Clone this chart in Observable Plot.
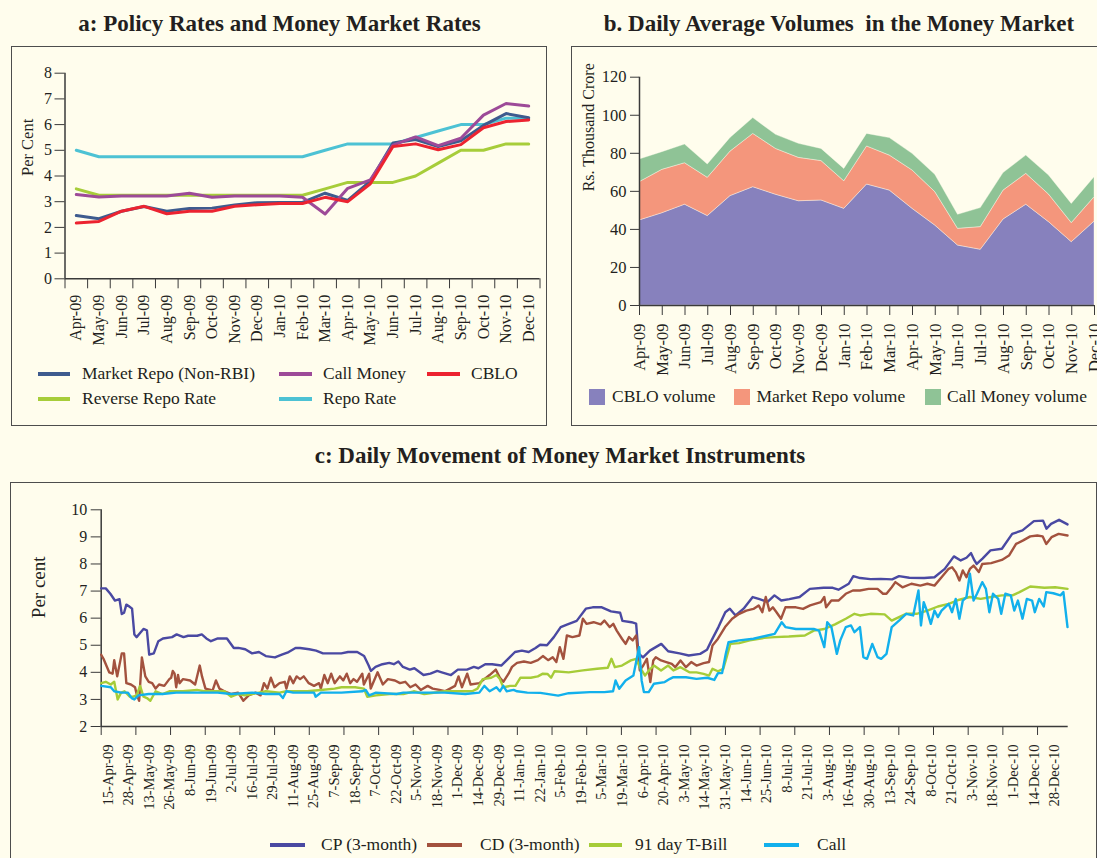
<!DOCTYPE html>
<html><head><meta charset="utf-8">
<script src="https://cdn.jsdelivr.net/npm/d3@7"></script>
<script src="https://cdn.jsdelivr.net/npm/@observablehq/plot@0.6"></script>
<style>
html,body{margin:0;padding:0;background:#fffded;overflow:hidden;width:1097px;height:858px;}
body{position:relative;font-family:"Liberation Serif","Times New Roman",serif;color:#231f20;}
.abs{position:absolute;}
.abs svg{max-width:none !important;}
.title{position:absolute;font-weight:bold;font-size:23px;white-space:pre;transform:translate(-50%,-50%);line-height:1;}
.box{position:absolute;border:1.5px solid #4d4d4d;box-sizing:border-box;}
.leg{position:absolute;font-size:17.5px;white-space:pre;transform:translateY(-50%);line-height:1;}
</style></head><body>
<script>
// ---------- Panel a data ----------
const months = ["Apr-09","May-09","Jun-09","Jul-09","Aug-09","Sep-09","Oct-09","Nov-09","Dec-09","Jan-10","Feb-10","Mar-10","Apr-10","May-10","Jun-10","Jul-10","Aug-10","Sep-10","Oct-10","Nov-10","Dec-10"];
const marketRepo  = [2.46,2.34,2.63,2.81,2.63,2.74,2.75,2.87,2.96,2.97,2.97,3.33,3.05,3.80,5.28,5.42,5.15,5.37,5.97,6.43,6.27];
const callMoney   = [3.28,3.18,3.22,3.22,3.22,3.33,3.17,3.22,3.22,3.22,3.17,2.52,3.52,3.85,5.20,5.52,5.18,5.47,6.37,6.82,6.72];
const cblo        = [2.17,2.23,2.63,2.82,2.53,2.63,2.63,2.82,2.88,2.93,2.93,3.17,3.00,3.70,5.15,5.25,5.02,5.22,5.88,6.12,6.18];
const reverseRepo = [3.50,3.25,3.25,3.25,3.25,3.25,3.25,3.25,3.25,3.25,3.25,3.50,3.75,3.75,3.75,4.00,4.50,5.00,5.00,5.25,5.25];
const repoRate    = [5.00,4.75,4.75,4.75,4.75,4.75,4.75,4.75,4.75,4.75,4.75,5.00,5.25,5.25,5.25,5.50,5.75,6.00,6.00,6.25,6.25];

// ---------- Panel b data (Rs. thousand crore) ----------
const cbloVolume       = [44.7,48.5,53.0,47.0,57.5,62.2,58.2,54.8,55.2,50.8,63.6,60.4,50.8,42.0,31.5,29.3,45.2,53.0,43.8,33.3,44.1];
const marketRepoVolume = [20.1,22.8,21.8,20.1,23.4,28.0,24.1,22.8,20.7,14.5,20.0,18.4,20.2,17.6,8.8,11.9,15.2,16.2,14.5,10.0,12.8];
const callMoneyVolume  = [11.9,9.3,9.8,7.0,7.2,8.3,7.4,7.4,6.4,6.5,6.6,9.2,8.7,9.1,7.4,10.0,9.2,9.6,10.0,10.1,10.5];

// ---------- Panel c data: [observation number, per cent] ----------
const dayLabels = ["15-Apr-09","28-Apr-09","13-May-09","26-May-09","8-Jun-09","19-Jun-09","2-Jul-09","16-Jul-09","29-Jul-09","11-Aug-09","25-Aug-09","7-Sep-09","18-Sep-09","7-Oct-09","22-Oct-09","5-Nov-09","18-Nov-09","1-Dec-09","14-Dec-09","29-Dec-09","11-Jan-10","22-Jan-10","5-Feb-10","19-Feb-10","5-Mar-10","19-Mar-10","6-Apr-10","20-Apr-10","3-May-10","14-May-10","31-May-10","14-Jun-10","25-Jun-10","8-Jul-10","21-Jul-10","3-Aug-10","16-Aug-10","30-Aug-10","13-Sep-10","24-Sep-10","8-Oct-10","21-Oct-10","3-Nov-10","18-Nov-10","1-Dec-10","14-Dec-10","28-Dec-10"];
const cp3m = [[0,7.1],[2,7.1],[4,6.9],[6,6.65],[8,6.7],[9,6.15],[10,6.2],[11,6.5],[12,6.45],[13.5,6.35],[14.5,5.4],[15.5,5.3],[17,5.45],[18.5,5.6],[20,5.55],[21,4.65],[23,4.7],[25,5.15],[27,5.25],[31,5.3],[33,5.4],[36,5.3],[38,5.35],[42,5.35],[44,5.4],[46,5.25],[48,5.15],[51,5.25],[55,5.25],[58,4.9],[60,4.9],[63,4.85],[66,4.7],[69,4.75],[72,4.6],[76,4.55],[79,4.65],[82,4.75],[85,4.9],[87,4.9],[91,4.85],[94,4.8],[97,4.7],[100,4.7],[105,4.7],[108,4.75],[112,4.75],[115,4.6],[117,4.25],[118,4.05],[120,4.2],[123,4.3],[126,4.35],[128,4.3],[130,4.4],[132,4.2],[135,4.1],[137,4.15],[141,3.9],[144,3.95],[147,4.05],[149,4.0],[153,3.9],[156,4.1],[160,4.1],[163,4.2],[165,4.15],[168,4.3],[171,4.3],[175,4.25],[178,4.5],[181,4.75],[184,4.8],[187,4.75],[190,4.9],[192,5.02],[195,5.0],[198,5.3],[201,5.67],[204,5.77],[208,5.9],[212,6.35],[215,6.4],[219,6.4],[223,6.25],[227,6.2],[228,5.9],[232,5.85],[234,5.8],[235,4.7],[237,4.55],[240,4.8],[245,5.05],[248,4.78],[253,4.7],[257,4.62],[262,4.68],[265,4.83],[267,5.18],[270,5.67],[273,6.22],[275,6.35],[277.5,6.1],[281,6.35],[285,6.78],[288,6.7],[291.5,6.6],[294.5,6.84],[297.5,6.65],[301,6.7],[305.5,6.78],[310,7.08],[316,7.12],[320,7.12],[322.5,7.05],[327,7.27],[329,7.55],[332,7.48],[336.5,7.44],[341,7.45],[346,7.43],[349,7.55],[353.5,7.49],[360,7.48],[364.5,7.51],[369,7.82],[373,8.28],[376,8.13],[378.5,8.23],[380.5,8.4],[382,8.13],[383,8.0],[385.5,8.2],[389,8.5],[394,8.56],[398.5,9.11],[403,9.24],[408,9.58],[412,9.6],[413.5,9.3],[415.5,9.48],[419,9.63],[422.7,9.46]];
const cd3m = [[0,4.65],[1,4.5],[3.5,4.0],[5,3.95],[5.7,4.45],[7,3.85],[9,4.7],[10,4.7],[11,3.6],[13,3.55],[14.8,3.45],[15.5,3.2],[16.6,2.95],[17.8,4.55],[19.3,3.85],[20.8,3.65],[22.3,3.6],[23.8,3.4],[25.3,3.55],[27.6,3.5],[29.8,3.75],[30.6,3.8],[31.3,4.05],[32.1,3.95],[32.8,3.45],[33.6,3.9],[34.3,3.6],[35.8,3.75],[38.9,3.7],[41.1,3.55],[43.1,4.25],[44.1,3.85],[45.6,3.4],[47.9,3.35],[48.6,3.3],[50.2,3.7],[51.7,3.4],[53.9,3.3],[56.9,3.2],[59.9,3.25],[62.2,2.95],[64.5,3.15],[67.5,3.25],[69.7,3.15],[71.2,3.6],[72.7,3.4],[74.2,3.8],[75.8,3.45],[78,3.6],[80.3,3.65],[81,3.4],[82.5,3.85],[84,3.6],[85.5,3.85],[87,3.75],[88.6,3.85],[90.8,3.6],[93.1,3.5],[95.3,3.6],[96.1,3.4],[97.6,3.9],[99.1,3.6],[100.6,3.95],[102.1,3.6],[104.4,3.85],[105.9,3.7],[107.4,3.95],[108.9,3.6],[110.4,3.75],[111.9,3.65],[114.2,3.95],[114.9,3.55],[117.2,3.95],[117.9,3.4],[120.9,4.0],[123.2,3.55],[125.4,3.75],[128.5,3.7],[130.7,3.6],[133,3.65],[135.2,3.45],[137.5,3.55],[139.8,3.35],[142.8,3.5],[145,3.4],[148,3.35],[150.3,3.3],[152.6,3.4],[154.8,3.5],[156.3,3.85],[157.8,3.45],[160.1,3.95],[161.6,3.55],[165.4,3.6],[167.6,3.75],[169.9,3.9],[172.6,4.1],[174.4,3.8],[175.9,3.65],[178.2,3.95],[179.7,4.2],[181.9,4.35],[184.9,4.4],[187.9,4.35],[191,4.45],[193.2,4.6],[195.5,4.45],[197.5,4.56],[199.1,4.38],[200.6,4.93],[202.2,4.5],[203.7,5.36],[206.1,5.3],[209.2,5.36],[210.7,5.98],[212.3,5.79],[215.4,5.85],[218.5,5.77],[220.1,5.91],[222.4,5.67],[224,5.79],[225.5,5.54],[227.8,5.24],[229.4,5.05],[230.9,5.3],[232.5,5.18],[234,5.36],[235.6,4.07],[237.1,4.25],[238.7,4.5],[240.2,3.64],[241.5,4.44],[242.6,4.56],[244.9,4.44],[247.2,4.38],[249.6,4.31],[251.1,4.19],[253.4,4.44],[255.8,4.19],[258.1,4.38],[260.4,4.25],[263.5,4.34],[265.9,4.38],[267.4,4.99],[269.8,5.24],[272.9,5.67],[276,5.98],[279.1,6.16],[282.2,6.28],[285.3,6.34],[287.6,6.47],[289.2,6.22],[290.7,6.78],[292.3,6.28],[293.8,6.4],[295.4,6.22],[297.4,5.98],[299.3,6.4],[303.9,6.4],[307,6.34],[310.1,6.47],[314.8,6.59],[316.3,6.78],[317.1,6.4],[319.4,6.65],[322.5,6.65],[325.7,6.9],[328.8,7.02],[331.9,7.02],[335.7,7.08],[339.6,7.08],[342,6.9],[343.5,6.9],[345.8,7.14],[347.4,7.33],[350.5,7.14],[354.4,7.27],[358.3,7.2],[361.4,7.27],[364.5,7.2],[367.6,7.51],[370.7,7.82],[372.2,7.88],[373.8,7.7],[375.4,7.39],[376.9,7.76],[378.5,7.51],[380,7.82],[381.6,7.94],[383.9,7.7],[385.4,8.0],[389.3,8.03],[394,8.15],[397.1,8.31],[400.2,8.74],[403.3,8.87],[406.4,9.02],[409.5,9.05],[411.8,9.02],[413.4,8.74],[415.7,8.99],[418.8,9.11],[422.7,9.05]];
const tBill91 = [[0,3.6],[2,3.65],[4.2,3.55],[5.7,3.65],[7.2,3.0],[8.7,3.25],[10.2,3.3],[12.5,3.1],[14,3.1],[15.5,3.15],[17,3.5],[18.5,3.1],[20,3.05],[21.5,2.95],[23.8,3.3],[26.8,3.2],[29.8,3.3],[35.8,3.3],[41.9,3.35],[44.9,3.3],[50.9,3.3],[53.9,3.3],[56.9,3.1],[59.9,3.2],[62.9,3.15],[66,3.2],[72,3.3],[78,3.25],[81,3.3],[85.5,3.3],[90.1,3.3],[96.1,3.35],[102.1,3.4],[105.1,3.45],[111.1,3.45],[114.9,3.4],[116.4,3.1],[120.2,3.15],[126.2,3.2],[132.2,3.2],[136.7,3.3],[141.3,3.2],[150.3,3.3],[156.3,3.3],[162.3,3.3],[164.6,3.4],[166.9,3.75],[170.6,3.8],[172.9,3.9],[174.4,3.75],[175.9,3.45],[178.9,3.5],[181.2,3.5],[183.4,3.8],[187.9,3.8],[191,3.85],[193.2,3.95],[195.2,3.94],[196.8,3.8],[198.3,4.04],[204.5,4.0],[210.7,4.07],[216.9,4.13],[221.6,4.17],[223.2,4.5],[224.7,4.19],[227.8,4.25],[231.7,4.44],[234,4.5],[235.6,4.19],[237.9,3.88],[240.2,4.13],[241.8,4.25],[244.9,4.07],[248,4.25],[250.3,4.07],[253.4,4.19],[257.3,4.0],[260.4,4.0],[263.5,3.94],[265.9,3.88],[267.4,4.13],[269.8,4.04],[272.1,4.13],[273.6,4.56],[275.2,5.05],[279.1,5.08],[283.7,5.18],[290,5.27],[294.6,5.3],[300.8,5.32],[307.8,5.36],[311.7,5.54],[316.3,5.6],[321,5.77],[325.7,5.98],[329.5,6.16],[331.9,6.1],[336.5,6.16],[342.7,6.14],[345.8,5.91],[349,6.04],[352.1,6.16],[356.7,6.16],[361.4,6.28],[366,6.43],[370.7,6.53],[375.4,6.68],[380,6.78],[384.7,6.71],[389.3,6.78],[394,6.84],[398.6,6.84],[401.7,6.96],[406.4,7.17],[412.6,7.12],[417.3,7.14],[422.7,7.08]];
const callRate = [[0,3.5],[4.2,3.45],[5.7,3.3],[8.7,3.25],[11.7,3.25],[13.3,3.05],[14.5,3.0],[16.3,3.15],[20.8,3.2],[26.8,3.2],[32.8,3.25],[41.9,3.25],[50.9,3.25],[56.9,3.2],[66,3.25],[72,3.2],[78,3.2],[79.5,3.05],[81,3.3],[84,3.25],[93.1,3.25],[93.8,3.1],[96.1,3.25],[105.1,3.25],[114.2,3.3],[115.7,3.35],[117.2,3.15],[120.2,3.25],[129.2,3.2],[132.2,3.25],[141.3,3.25],[150.3,3.25],[159.3,3.2],[165.4,3.25],[167.6,3.5],[169.9,3.3],[172.9,3.45],[174.4,3.3],[175.9,3.5],[177.4,3.3],[180.4,3.35],[181.9,3.3],[186.4,3.25],[192.1,3.24],[199.9,3.14],[204.5,3.23],[213.8,3.27],[220.1,3.27],[223.9,3.3],[225,3.7],[226.6,3.39],[229.4,3.7],[232.8,3.88],[234,4.38],[235.3,4.93],[236.4,3.7],[237.4,3.27],[239.5,3.27],[241.8,3.58],[246.5,3.64],[248.8,3.76],[250.3,3.82],[255.8,3.82],[260.4,3.76],[265.1,3.8],[268.2,3.72],[269.8,3.97],[271.6,3.97],[273.2,4.68],[274.4,5.11],[279.1,5.18],[285.3,5.24],[291.5,5.36],[294.6,5.42],[297.7,5.85],[299.3,5.67],[303.9,5.6],[308.6,5.6],[311.7,5.6],[314,5.54],[316.3,4.93],[317.6,5.85],[319.4,5.67],[321.8,4.68],[323.3,5.18],[325.7,5.67],[328,5.73],[329.5,5.48],[331.9,5.67],[333.4,4.56],[335,4.5],[337.3,5.05],[339.6,4.56],[341.2,4.5],[343.5,4.68],[345.8,5.67],[349,5.91],[352.1,6.16],[355.2,6.1],[357.5,7.02],[358.6,5.73],[359.8,6.59],[361.4,6.22],[362.9,5.79],[364.5,6.28],[366,6.04],[367.6,6.28],[369.1,6.4],[370.7,6.53],[372.2,6.22],[373.8,6.71],[375.4,5.98],[376.9,6.65],[378.5,6.78],[380,7.64],[381.6,6.65],[383.1,6.9],[385.4,7.33],[387,7.08],[388.5,6.22],[390.1,6.9],[392.4,6.71],[393.7,6.16],[395.5,6.9],[397.9,6.84],[399.4,6.28],[401,6.65],[403,5.98],[404.9,6.71],[407.2,6.65],[408.4,6.22],[410.3,6.71],[412.3,6.43],[413.4,6.96],[416.5,6.92],[419.6,6.84],[420.9,6.96],[422.7,5.67]];
const dayCount = 423;   // observations on the category axis
const labelEvery = 9, labelStart = 3, tickEvery = 15.17;

// ---------- helpers ----------
const axisColor = "#3a3a3a";
const textColor = "#231f20";
const baseStyle = {background: "transparent", fontFamily: "'Liberation Serif','Times New Roman',serif", fontSize: "16px", color: textColor, overflow: "visible", maxWidth: "none"};
function place(node, left, top, w, h) {
  const d = document.createElement("div");
  d.className = "abs"; d.style.left = left + "px"; d.style.top = top + "px";
  d.style.width = w + "px"; d.style.height = h + "px";
  d.appendChild(node); document.body.appendChild(d); return d;
}
function div(cls, css, text) {
  const d = document.createElement("div"); d.className = cls;
  Object.assign(d.style, css); if (text != null) d.textContent = text;
  document.body.appendChild(d); return d;
}
function legendLine(x1, x2, y, color, tx, text) {
  div("abs", {left: x1 + "px", top: (y - 2) + "px", width: (x2 - x1) + "px", height: "4px", background: color});
  div("leg", {left: tx + "px", top: y + "px"}, text);
}
function legendBox(x, y, size, color, tx, text) {
  div("abs", {left: x + "px", top: (y - size / 2) + "px", width: size + "px", height: size + "px", background: color});
  div("leg", {left: tx + "px", top: y + "px"}, text);
}

// ---------- frames & titles ----------
div("box", {left: "10.5px", top: "46px", width: "536px", height: "380px"});
div("box", {left: "571px", top: "46px", width: "560px", height: "380px"});
div("box", {left: "10px", top: "482px", width: "1087px", height: "400px"});
div("title", {left: "279.5px", top: "23px"}, "a: Policy Rates and Money Market Rates");
div("title", {left: "839px", top: "23px"}, "b. Daily Average Volumes  in the Money Market");
div("title", {left: "560px", top: "455px"}, "c: Daily Movement of Money Market Instruments");

// ---------- Panel a ----------
const seriesA = [
  {name: "Repo Rate", values: repoRate, color: "#4dc2d4"},
  {name: "Reverse Repo Rate", values: reverseRepo, color: "#a7cd3a"},
  {name: "Market Repo (Non-RBI)", values: marketRepo, color: "#3e5b8e"},
  {name: "Call Money", values: callMoney, color: "#9d4a98"},
  {name: "CBLO", values: cblo, color: "#ec2330"}
];
const dataA = seriesA.flatMap(s => s.values.map((v, i) => ({i, v, s: s.name})));
const plotA = Plot.plot({
  width: 536, height: 300,
  marginLeft: 53.5, marginRight: 7.5, marginTop: 26.7, marginBottom: 67.7,
  style: baseStyle,
  x: {domain: [-0.5, months.length - 0.5], axis: null},
  y: {domain: [0, 8], axis: null},
  color: {domain: seriesA.map(s => s.name), range: seriesA.map(s => s.color)},
  marks: [
    Plot.axisY({ticks: d3.range(0, 9), tickSize: 10, tickPadding: 3, label: null, fontSize: 16, stroke: axisColor}),
    Plot.axisX({ticks: d3.range(-0.5, months.length, 1), tickFormat: () => "", tickSize: 10, label: null, stroke: axisColor}),
    Plot.axisX({ticks: d3.range(0, months.length), tickFormat: i => months[i], tickSize: 0, tickPadding: 16, tickRotate: -90, label: null, fontSize: 16}),
    Plot.ruleX([-0.5], {stroke: axisColor, strokeWidth: 1.5}),
    Plot.ruleY([0], {stroke: axisColor, strokeWidth: 1.5}),
    Plot.line(dataA, {x: "i", y: "v", z: "s", stroke: "s", strokeWidth: 3}),
    Plot.text(["Per Cent"], {text: d => d, frameAnchor: "left", rotate: -90, dx: -37, fontSize: 16.5})
  ]
});
place(plotA, 10.5, 46, 536, 300);
legendLine(37.5, 70, 374, "#3e5b8e", 82, "Market Repo (Non-RBI)");
legendLine(278.5, 312, 374, "#9d4a98", 323, "Call Money");
legendLine(427, 460, 374, "#ec2330", 471, "CBLO");
legendLine(37.5, 70, 399, "#a7cd3a", 82, "Reverse Repo Rate");
legendLine(278.5, 312, 399, "#4dc2d4", 323, "Repo Rate");

// ---------- Panel b ----------
const seriesB = [
  {name: "CBLO volume", values: cbloVolume, color: "#8781bd"},
  {name: "Market Repo volume", values: marketRepoVolume, color: "#f4967c"},
  {name: "Call Money volume", values: callMoneyVolume, color: "#8fc396"}
];
const dataB = seriesB.flatMap(s => s.values.map((v, i) => ({i, v, s: s.name})));
const plotB = Plot.plot({
  width: 560, height: 340,
  marginLeft: 68, marginRight: 37, marginTop: 30.7, marginBottom: 81,
  style: baseStyle,
  x: {domain: [0, months.length - 1], axis: null},
  y: {domain: [0, 120], axis: null},
  color: {domain: seriesB.map(s => s.name), range: seriesB.map(s => s.color)},
  marks: [
    Plot.areaY(dataB, {x: "i", y: "v", z: "s", fill: "s", stroke: "#fffded", strokeWidth: 0.4}),
    Plot.axisY({ticks: d3.range(0, 121, 20), tickSize: 9, tickPadding: 4, label: null, fontSize: 16.5, stroke: axisColor}),
    Plot.axisX({ticks: d3.range(0, months.length), tickFormat: i => months[i], tickSize: 10, tickPadding: 8, tickRotate: -90, label: null, fontSize: 16.5, stroke: axisColor}),
    Plot.ruleX([0], {stroke: axisColor, strokeWidth: 1.5}),
    Plot.ruleY([0], {stroke: axisColor, strokeWidth: 1.5}),
    Plot.text(["Rs. Thousand Crore"], {text: d => d, frameAnchor: "left", rotate: -90, dx: -51, fontSize: 16})
  ]
});
place(plotB, 571, 46, 560, 340);
legendBox(589, 397, 16, "#8781bd", 612, "CBLO volume");
legendBox(734, 397, 16, "#f4967c", 756.5, "Market Repo volume");
legendBox(925, 397, 16, "#8fc396", 947, "Call Money volume");

// ---------- Panel c ----------
const seriesC = [
  {name: "CP (3-month)", values: cp3m, color: "#4a49a2"},
  {name: "CD (3-month)", values: cd3m, color: "#a3523e"},
  {name: "91 day T-Bill", values: tBill91, color: "#a6cc38"},
  {name: "Call", values: callRate, color: "#12b0ec"}
];
const dataC = seriesC.flatMap(s => s.values.map(([d, v]) => ({d, v, s: s.name})));
const labelPos = dayLabels.map((_, k) => labelStart + labelEvery * k);
const labelMap = new Map(labelPos.map((p, k) => [p, dayLabels[k]]));
const plotC = Plot.plot({
  width: 1100, height: 376,
  marginLeft: 90.7, marginRight: 42.3, marginTop: 27.3, marginBottom: 132,
  style: baseStyle,
  x: {domain: [0, dayCount], axis: null},
  y: {domain: [2, 10], axis: null},
  color: {domain: seriesC.map(s => s.name), range: seriesC.map(s => s.color)},
  marks: [
    Plot.axisY({ticks: d3.range(2, 11), tickSize: 10, tickPadding: 4, label: null, fontSize: 16, stroke: axisColor}),
    Plot.axisX({ticks: d3.range(0, dayCount - 10, tickEvery), tickFormat: () => "", tickSize: 9, label: null, stroke: axisColor}),
    Plot.axisX({ticks: labelPos, tickFormat: d => labelMap.get(d), tickSize: 0, tickPadding: 18, tickRotate: -90, label: null, fontSize: 14.5}),
    Plot.ruleX([0], {stroke: axisColor, strokeWidth: 1.5}),
    Plot.ruleY([2], {stroke: axisColor, strokeWidth: 1.5}),
    Plot.line(dataC, {x: "d", y: "v", z: "s", stroke: "s", strokeWidth: 2.4}),
    Plot.text(["Per cent"], {text: d => d, frameAnchor: "left", rotate: -90, dx: -62, fontSize: 19})
  ]
});
place(plotC, 10, 482, 1100, 376);
legendLine(270, 305, 845, "#4a49a2", 321, "CP (3-month)");
legendLine(427, 462, 845, "#a3523e", 480, "CD (3-month)");
legendLine(589, 622, 845, "#a6cc38", 635, "91 day T-Bill");
legendLine(764, 799, 845, "#12b0ec", 817, "Call");
</script>
</body></html>
